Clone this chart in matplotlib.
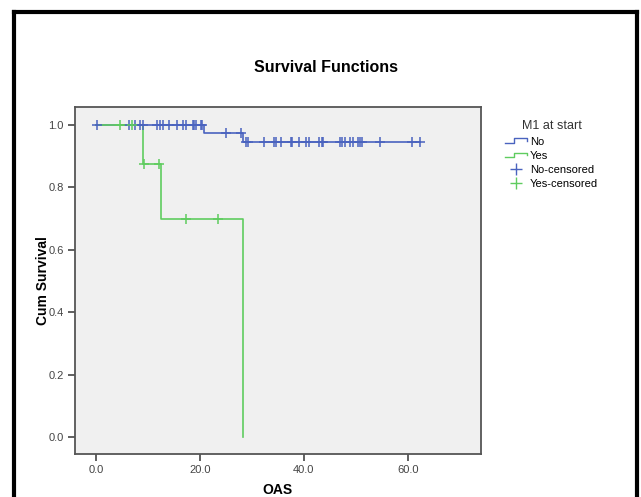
import matplotlib
matplotlib.use('Agg')
import matplotlib.pyplot as plt
from matplotlib.lines import Line2D
from matplotlib.legend_handler import HandlerLine2D
import numpy as np

plt.rcParams['font.family'] = ['Liberation Sans', 'DejaVu Sans']

# group "No" (M1 at start = No)
no_step_t = [0.0, 20.8, 28.3]
no_step_s = [1.0, 0.973, 0.945]
no_end = 62.4
no_cens = [0.3, 6.3, 7.5, 8.5, 9.1, 11.7, 12.3, 13.0, 14.1, 15.7, 16.8, 17.3, 18.7,
           18.9, 19.3, 20.2, 20.5, 25.0, 28.0, 28.8, 29.3, 32.3, 34.3, 34.6, 35.6,
           37.5, 37.8, 39.0, 40.5, 40.9, 42.9, 43.4, 43.7, 47.0, 47.3, 47.9, 48.9,
           49.5, 50.4, 50.7, 51.1, 54.6, 60.8, 62.4]

# group "Yes"
yes_step_t = [0.0, 9.0, 12.5, 28.3]
yes_step_s = [1.0, 0.875, 0.70, 0.0]
yes_end = 28.3
yes_cens = [4.7, 7.0, 9.3, 12.2, 17.3, 23.4]

blue = '#4a63bf'
green = '#5fcc5f'


def surv_at(t, st, ss):
    i = np.searchsorted(st, t, side='right') - 1
    return ss[i]


class StepHandler(HandlerLine2D):
    def create_artists(self, legend, orig, xd, yd, w, h, fontsize, trans):
        x = [-xd, -xd + w * 0.4, -xd + w * 0.4, -xd + w, -xd + w]
        y = [h * 0.2 - yd, h * 0.2 - yd, h * 0.8 - yd, h * 0.8 - yd, h * 0.45 - yd]
        ln = Line2D(x, y, color=orig.get_color(), lw=1.0, transform=trans)
        return [ln]


fig = plt.figure(figsize=(6.41, 4.97), dpi=100)
ax = fig.add_axes([0.117, 0.0865, 0.633, 0.6985])
ax.set_facecolor('#f0f0f0')

# curves
xs = no_step_t + [no_end]
ys = no_step_s + [no_step_s[-1]]
ax.step(xs, ys, where='post', color=blue, lw=1.2)
xs = yes_step_t
ys = yes_step_s
ax.step(xs, ys, where='post', color=green, lw=1.2)

# censored marks
ax.plot(no_cens, [surv_at(t, no_step_t, no_step_s) for t in no_cens], '+',
        color=blue, ms=7, mew=1.1)
ax.plot(yes_cens, [surv_at(t, yes_step_t, yes_step_s) for t in yes_cens], '+',
        color=green, ms=7, mew=1.1)

ax.set_xlim(-4, 74)
ax.set_ylim(-0.054, 1.058)
ax.set_xticks([0, 20, 40, 60])
ax.set_xticklabels(['0.0', '20.0', '40.0', '60.0'])
ax.set_yticks([0, 0.2, 0.4, 0.6, 0.8, 1.0])
ax.set_yticklabels(['0.0', '0.2', '0.4', '0.6', '0.8', '1.0'])
ax.tick_params(axis='both', direction='out', length=5, width=1.2, color='#444444',
               labelsize=8, labelcolor='#444444', pad=3)
for s in ax.spines.values():
    s.set_color('#555555')
    s.set_linewidth(1.3)

ax.set_xlabel('OAS', fontsize=10, fontweight='bold', labelpad=6)
ax.set_ylabel('Cum Survival', fontsize=10, fontweight='bold', labelpad=-1)

fig.text(0.509, 0.865, 'Survival Functions', ha='center', va='center',
         fontsize=11.5, fontweight='bold')

h_no = Line2D([], [], color=blue)
h_yes = Line2D([], [], color=green)
h_nc = Line2D([], [], color=blue, marker='+', ls='none', ms=8, mew=1)
h_yc = Line2D([], [], color=green, marker='+', ls='none', ms=8, mew=1)
leg = fig.legend([h_no, h_yes, h_nc, h_yc], ['No', 'Yes', 'No-censored', 'Yes-censored'],
                 title='M1 at start', loc='upper left', bbox_to_anchor=(0.773, 0.778),
                 frameon=False, fontsize=8, title_fontsize=9,
                 handlelength=1.9, handletextpad=0.3, labelspacing=0.38,
                 handler_map={h_no: StepHandler(), h_yes: StepHandler()})
leg.get_title().set_color('#333333')

# outer black frame
fig.add_artist(Line2D([0.022, 0.022], [0.0, 0.975], color='black', lw=3,
                      transform=fig.transFigure))
fig.add_artist(Line2D([0.022, 0.994], [0.975, 0.975], color='black', lw=3,
                      transform=fig.transFigure))
fig.add_artist(Line2D([0.994, 0.994], [0.0, 0.975], color='black', lw=3,
                      transform=fig.transFigure))

plt.savefig('out.png', dpi=100)
